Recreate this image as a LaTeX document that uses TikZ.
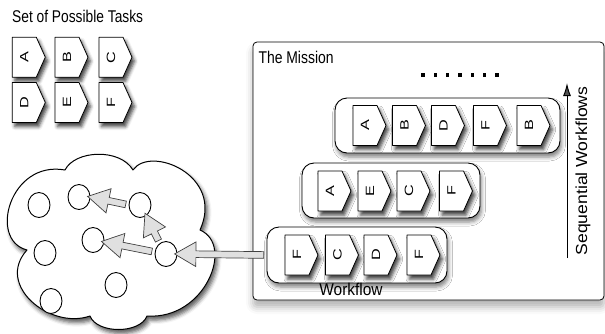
\documentclass[tikz,border=0pt]{standalone}
\usepackage{fontspec}
\setmainfont{Liberation Sans}
\usetikzlibrary{shapes.geometric,shapes.arrows,shadows.blur,calc,arrows.meta}

% block arrow node stretched from one point to another
\newcommand\fatarrowfromto[3]{%
  \path let \p1=($(#3)-(#2)$), \n1={atan2(\y1,\x1)}, \n2={veclen(\x1,\y1)} in
    node[fatarrow, minimum height=\n2, rotate=\n1] (#1) at ($(#2)!0.5!(#3)$) {};
}

\tikzset{
  taskshape/.style={draw, fill=white, line width=0.8pt, line join=round,
    blur shadow={shadow xshift=2.5pt, shadow yshift=-4pt, shadow blur radius=3.5pt, shadow opacity=75}},
  tasklabel/.style={rotate=90, inner sep=0pt, font=\fontsize{12}{12}\selectfont},
  pics/task/.style={code={
    \path[taskshape] (-16.5,-20) -- (7.5,-20) -- (16.5,0) -- (7.5,20) -- (-16.5,20) -- cycle;
    \node[tasklabel] (-t) at (-4.5,0) {\scalebox{1.35}[1]{#1}};
  }},
  wfbox/.style={draw, fill=white, line width=0.9pt, rounded corners=12pt, inner sep=0pt,
    blur shadow={shadow xshift=1.5pt, shadow yshift=-4pt, shadow blur radius=4pt, shadow opacity=50}},
  missionbox/.style={draw, fill=white, line width=0.8pt, rounded corners=4pt, inner sep=0pt,
    blur shadow={shadow xshift=0pt, shadow yshift=-7pt, shadow blur radius=7pt, shadow opacity=30}},
  cloudshape/.style={draw, fill=white, line width=1pt, line join=round,
    blur shadow={shadow xshift=2.5pt, shadow yshift=-4pt, shadow blur radius=4pt, shadow opacity=65}},
  dot/.style={ellipse, draw, fill=white, line width=0.9pt, minimum width=22pt,
    minimum height=25pt, inner sep=0pt},
  fatarrow/.style={single arrow, draw=black!75, fill=black!12, line width=0.7pt,
    inner sep=3pt, single arrow head extend=9pt, single arrow tip angle=60, outer sep=0pt},
  lbl/.style={inner sep=0pt, font=\fontsize{17}{17}\selectfont},
}

\begin{document}
\begin{tikzpicture}[x=1pt, y=-1pt]
\useasboundingbox (0,0) rectangle (605,333);

% the cloud of agents
\path[cloudshape] (27,250)
  .. controls (-12,240) and (10,160) .. (65,170)
  .. controls (75,150) and (120,148) .. (133,170)
  .. controls (150,145) and (225,175) .. (200,230)
  .. controls (235,245) and (205,320) .. (147,316)
  .. controls (140,334) and (97,334) .. (90,316)
  .. controls (50,330) and (-5,285) .. (27,250) -- cycle;

\node[dot] (c1) at (39,205) {};
\node[dot] (c2) at (79,197) {};
\node[dot] (c3) at (140,205) {};
\node[dot] (c4) at (93,240) {};
\node[dot] (c5) at (45,253) {};
\node[dot] (c6) at (166,254) {};
\node[dot] (c7) at (116,285) {};
\node[dot] (c8) at (51,301) {};

\fatarrowfromto{a32}{c3.west}{c2.east}
\fatarrowfromto{a64}{c6.170}{c4.-10}
\fatarrowfromto{a63}{c6.120}{c3.-60}

% the mission and its workflows
\node[missionbox, minimum width=351pt, minimum height=258pt] (mission) at (428.5,171) {};
\node[lbl, anchor=base west] (missiontitle) at (258.3,63.3) {\scalebox{0.82}[1]{The Mission}};

\node[wfbox, minimum width=225pt, minimum height=55pt] (wf1) at (447.5,125.5) {};
\node[wfbox, minimum width=178pt, minimum height=55pt] (wf2) at (391,190.5) {};
\node[wfbox, minimum width=180pt, minimum height=56pt] (wf3) at (357,255) {};

\fatarrowfromto{a3c}{wf3.west}{c6.east}

\pic (w1a) at (369.5,125.5) {task=A};
\pic (w1b) at (409,125.5) {task=B};
\pic (w1c) at (448,125.5) {task=D};
\pic (w1d) at (490,125.5) {task=F};
\pic (w1e) at (533.5,125.5) {task=B};

\pic (w2a) at (334.5,191) {task=A};
\pic (w2b) at (374.5,191) {task=E};
\pic (w2c) at (413.5,191) {task=C};
\pic (w2d) at (456,191) {task=F};

\pic (w3a) at (301.5,255) {task=F};
\pic (w3b) at (342,255) {task=C};
\pic (w3c) at (380.5,255) {task=D};
\pic (w3d) at (423.5,255) {task=F};

\node[lbl, anchor=base] (wflabel) at (351,295.3) {\scalebox{0.91}[1]{Workflow}};

% more workflows to come
\foreach \i in {0,...,6}
  \fill (421.3+12.3*\i,73.3) rectangle ++(3.5,3.5);

% sequence axis
\coordinate (seqbot) at (567,258);
\coordinate (seqtop) at (567,83);
\draw[line width=1pt, -{Latex[length=13pt,width=8pt]}] (seqbot) -- (seqtop);
\node[rotate=90, anchor=base, inner sep=0pt, font=\fontsize{16}{16}\selectfont]
  (seqlabel) at (587,171) {\scalebox{1.1}[1]{Sequential Workflows}};

% the set of possible tasks
\node[lbl, anchor=base west] (settitle) at (12,22.7) {\scalebox{0.81}[1]{Set of Possible Tasks}};
\pic (sA) at (28.8,57.2) {task=A};
\pic (sB) at (71.5,57.2) {task=B};
\pic (sC) at (115.5,57.2) {task=C};
\pic (sD) at (28.8,102.5) {task=D};
\pic (sE) at (71.5,102.5) {task=E};
\pic (sF) at (115.5,102.5) {task=F};
\end{tikzpicture}
\end{document}
